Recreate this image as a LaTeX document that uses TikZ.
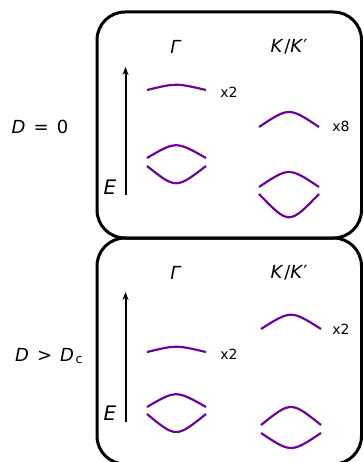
\documentclass[tikz,border=0pt]{standalone}
\usepackage{fontspec}
\setmainfont{DejaVu Sans}
\usetikzlibrary{arrows.meta}
\definecolor{bandpurple}{RGB}{106,8,148}
\tikzset{
  panel/.style={line width=3pt, rounded corners=28pt},
  band/.style={bandpurple, line width=2.2pt},
  label/.style={font=\fontsize{18}{21}\selectfont},
  mult/.style={font=\fontsize{14}{16}\selectfont},
  axis/.style={line width=2pt, -{Stealth[length=8pt,width=6pt]}},
}
\begin{document}
\begin{tikzpicture}[x=1pt,y=-1pt]
	\useasboundingbox (0,0) rectangle (363,462);
	\clip (0,0) rectangle (363,462);
	% panels
	\draw[panel] (97,12) rectangle (361.5,238);
	\draw[panel] (97,238) rectangle (361.5,464);
	% upper panel: D = 0
	\node[label] (d0) at (40,127) {\textit{D}\hspace{0.45em}=\hspace{0.45em}0};
	\node[label] (g0) at (176,47) {\textit{Γ}};
	\node[label] (k0) at (289,47) {\textit{K}\hspace{0.04em}/\textit{K}′};
	\node[font=\fontsize{20}{24}\selectfont] (e0) at (110,187) {\textit{E}};
	\coordinate (a0s) at (125.5,195);
	\coordinate (a0e) at (125.5,67);
	\draw[axis] (a0s) -- (a0e);
	\draw[band] (147,90) .. controls (176,83) .. (206,90);
	\draw[band] (147,158) .. controls (176,141) .. (206,158);
	\draw[band] (147,166) .. controls (176,189) .. (206,166);
	\draw[band] (259,127) .. controls (289,107) .. (319,127);
	\draw[band] (259,187) .. controls (289,167) .. (319,187);
	\draw[band] (259,194) .. controls (289,225) .. (319,194);
	\node[mult] (m0g) at (229,92) {x2};
	\node[mult] (m0k) at (341,126) {x8};
	% lower panel: D > Dc
	\node[label] (d1) at (49,356) {\textit{D}\hspace{0.45em}>\hspace{0.45em}\textit{D}\hspace{0.08em}\textsubscript{c}};
	\node[label] (g1) at (176,273) {\textit{Γ}};
	\node[label] (k1) at (289,273) {\textit{K}\hspace{0.04em}/\textit{K}′};
	\node[font=\fontsize{20}{24}\selectfont] (e1) at (110,413) {\textit{E}};
	\coordinate (a1s) at (125.5,422);
	\coordinate (a1e) at (125.5,292);
	\draw[axis] (a1s) -- (a1e);
	\draw[band] (147,352) .. controls (176,345) .. (206,352);
	\draw[band] (147,407) .. controls (176,390) .. (206,407);
	\draw[band] (147,414) .. controls (176,438) .. (206,414);
	\draw[band] (261,329) .. controls (291,310) .. (321,329);
	\draw[band] (261,425) .. controls (291,401) .. (321,425);
	\draw[band] (261,433) .. controls (291,453) .. (321,433);
	\node[mult] (m1g) at (229,354) {x2};
	\node[mult] (m1k) at (341,329) {x2};
\end{tikzpicture}
\end{document}
